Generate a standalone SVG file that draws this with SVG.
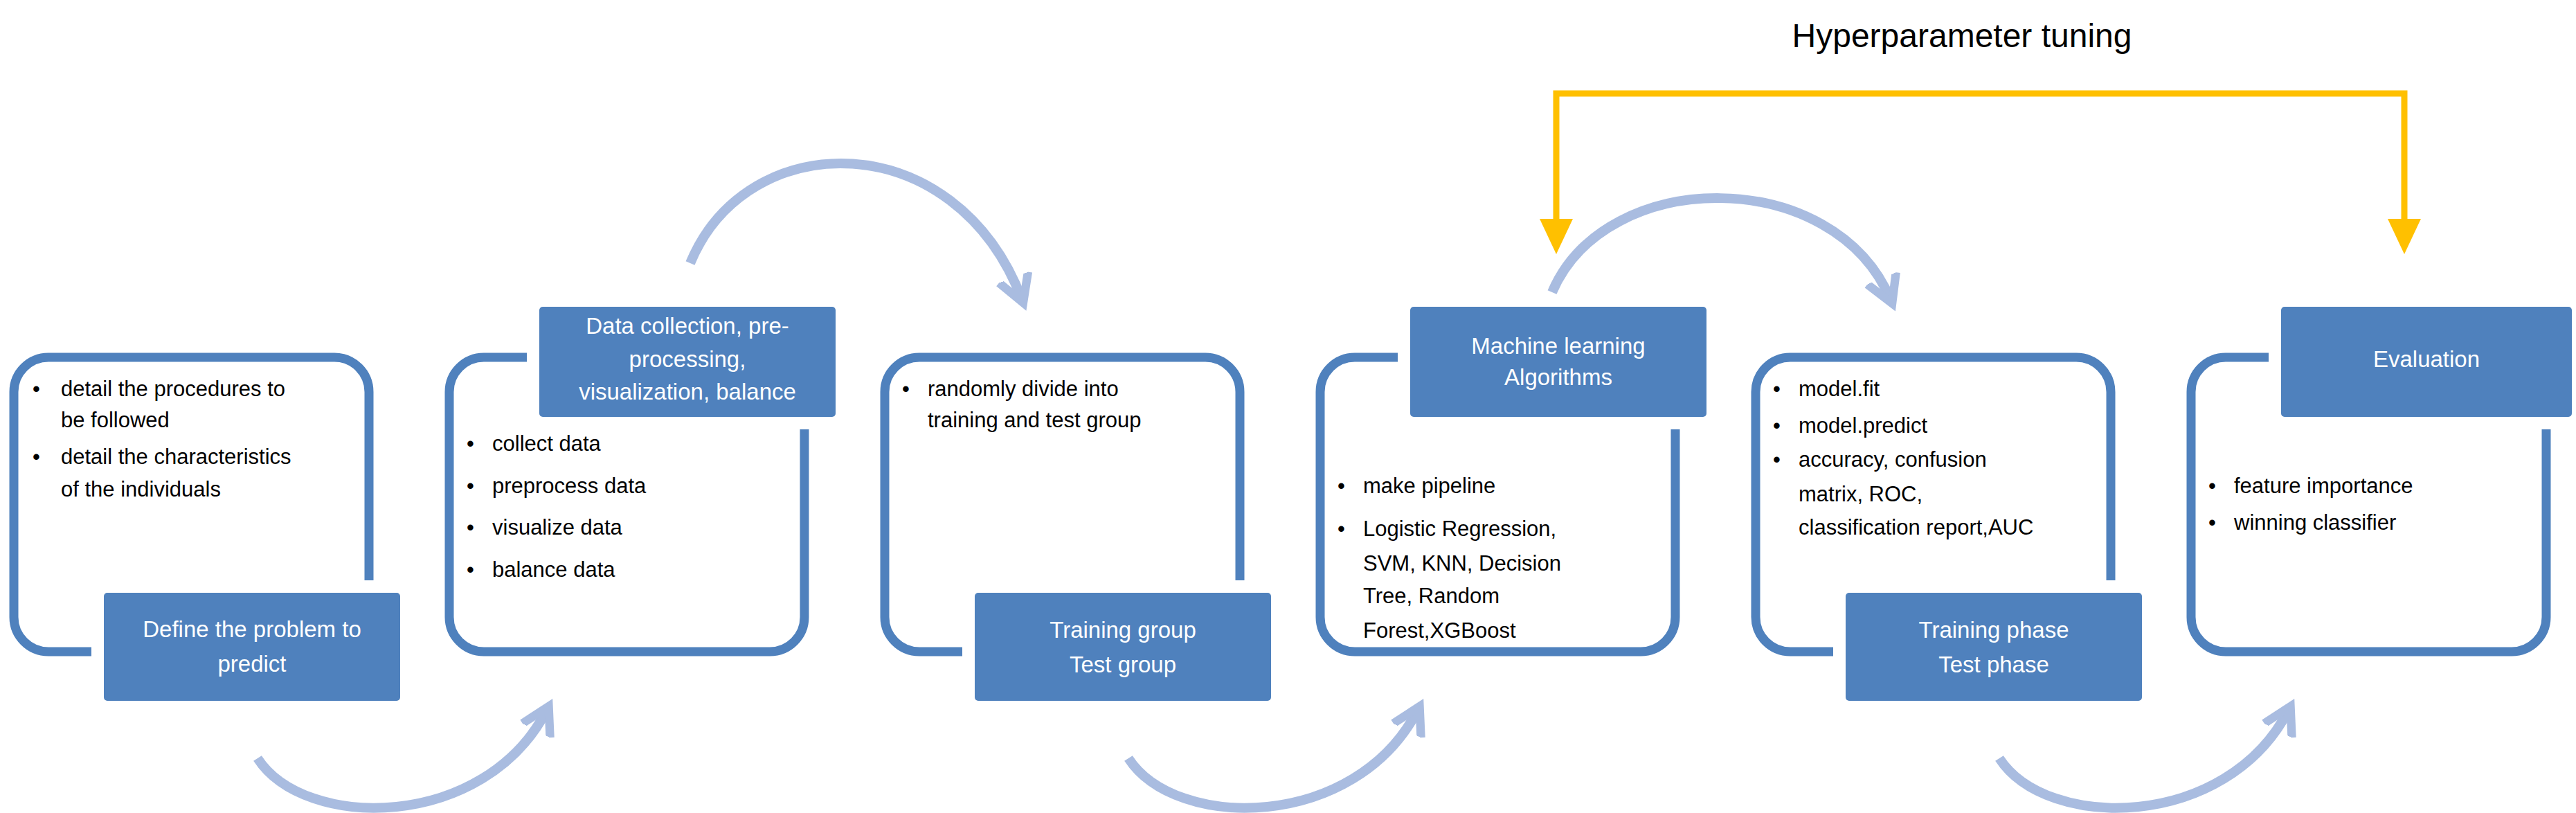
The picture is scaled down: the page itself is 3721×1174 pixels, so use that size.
<svg xmlns="http://www.w3.org/2000/svg" width="3721" height="1174" viewBox="0 0 3721 1174">
<style>
.ol{fill:none;stroke:#4F81BD;stroke-width:13}
.lb{fill:#4F81BD;stroke:#fff;stroke-width:36;paint-order:stroke}
.lt{font-family:"Liberation Sans",Arial,sans-serif;font-size:33px;fill:#fff;text-anchor:middle}
.bt{font-family:"Liberation Sans",Arial,sans-serif;font-size:31px;fill:#000}
.arc{fill:none;stroke:#A9BCE0;stroke-width:14;marker-end:url(#ah)}
.hy{fill:none;stroke:#FFC000;stroke-width:9}
</style>
<defs>
<marker id="ah" viewBox="0 0 10 10" refX="6" refY="5" markerWidth="4" markerHeight="4" orient="auto" markerUnits="strokeWidth">
<path d="M0,1 L7,5 L0,9" fill="none" stroke="#A9BCE0" stroke-width="2.2"/>
</marker>
</defs>
<rect width="3721" height="1174" fill="#fff"/>
<text x="2834" y="68" font-family="Liberation Sans,Arial,sans-serif" font-size="48" text-anchor="middle">Hyperparameter tuning</text>
<g id="connectors">
<path class="arc" d="M372,1095 C440,1200 700,1200 790,1025"/>
<path class="arc" d="M1630,1095 C1698,1200 1958,1200 2048,1025"/>
<path class="arc" d="M2888,1095 C2956,1200 3216,1200 3306,1025"/>
<path class="arc" d="M997,380 C1080,180 1380,180 1476,432"/>
<path class="arc" d="M2242,422 C2320,239 2650,239 2731,433"/>
<path class="hy" d="M2248,320 V135 H3473 V320"/>
<polygon points="2224,316 2272,316 2248,367" fill="#FFC000"/>
<polygon points="3449,316 3497,316 3473,367" fill="#FFC000"/>
</g>
<g id="n1">
<rect class="ol" x="20" y="516" width="513" height="425" rx="50"/>
<text class="bt"><tspan x="47" y="572">•</tspan><tspan x="88" y="572">detail the procedures to</tspan><tspan x="88" y="617">be followed</tspan><tspan x="47" y="670">•</tspan><tspan x="88" y="670">detail the characteristics</tspan><tspan x="88" y="717">of the individuals</tspan></text>
<rect class="lb" x="150" y="856" width="428" height="156" rx="5"/>
<text class="lt"><tspan x="364" y="920">Define the problem to</tspan><tspan x="364" y="970">predict</tspan></text>
</g>
<g id="n2">
<rect class="ol" x="649" y="516" width="513" height="425" rx="50"/>
<text class="bt"><tspan x="674" y="651">•</tspan><tspan x="711" y="651">collect data</tspan><tspan x="674" y="712">•</tspan><tspan x="711" y="712">preprocess data</tspan><tspan x="674" y="772">•</tspan><tspan x="711" y="772">visualize data</tspan><tspan x="674" y="833">•</tspan><tspan x="711" y="833">balance data</tspan></text>
<rect class="lb" x="779" y="443" width="428" height="159" rx="5"/>
<text class="lt"><tspan x="993" y="482">Data collection, pre-</tspan><tspan x="993" y="530">processing,</tspan><tspan x="993" y="577">visualization, balance</tspan></text>
</g>
<g id="n3">
<rect class="ol" x="1278" y="516" width="513" height="425" rx="50"/>
<text class="bt"><tspan x="1303" y="572">•</tspan><tspan x="1340" y="572">randomly divide into</tspan><tspan x="1340" y="617">training and test group</tspan></text>
<rect class="lb" x="1408" y="856" width="428" height="156" rx="5"/>
<text class="lt"><tspan x="1622" y="921">Training group</tspan><tspan x="1622" y="971">Test group</tspan></text>
</g>
<g id="n4">
<rect class="ol" x="1907" y="516" width="513" height="425" rx="50"/>
<text class="bt"><tspan x="1932" y="712">•</tspan><tspan x="1969" y="712">make pipeline</tspan><tspan x="1932" y="774">•</tspan><tspan x="1969" y="774">Logistic Regression,</tspan><tspan x="1969" y="824">SVM, KNN, Decision</tspan><tspan x="1969" y="871">Tree, Random</tspan><tspan x="1969" y="921">Forest,XGBoost</tspan></text>
<rect class="lb" x="2037" y="443" width="428" height="159" rx="5"/>
<text class="lt"><tspan x="2251" y="511">Machine learning</tspan><tspan x="2251" y="556">Algorithms</tspan></text>
</g>
<g id="n5">
<rect class="ol" x="2536" y="516" width="513" height="425" rx="50"/>
<text class="bt"><tspan x="2561" y="572">•</tspan><tspan x="2598" y="572">model.fit</tspan><tspan x="2561" y="625">•</tspan><tspan x="2598" y="625">model.predict</tspan><tspan x="2561" y="674">•</tspan><tspan x="2598" y="674">accuracy, confusion</tspan><tspan x="2598" y="724">matrix, ROC,</tspan><tspan x="2598" y="772">classification report,AUC</tspan></text>
<rect class="lb" x="2666" y="856" width="428" height="156" rx="5"/>
<text class="lt"><tspan x="2880" y="921">Training phase</tspan><tspan x="2880" y="971">Test phase</tspan></text>
</g>
<g id="n6">
<rect class="ol" x="3165" y="516" width="513" height="425" rx="50"/>
<text class="bt"><tspan x="3190" y="712">•</tspan><tspan x="3227" y="712">feature importance</tspan><tspan x="3190" y="765">•</tspan><tspan x="3227" y="765">winning classifier</tspan></text>
<rect class="lb" x="3295" y="443" width="420" height="159" rx="5"/>
<text class="lt"><tspan x="3505" y="530">Evaluation</tspan></text>
</g>
</svg>
